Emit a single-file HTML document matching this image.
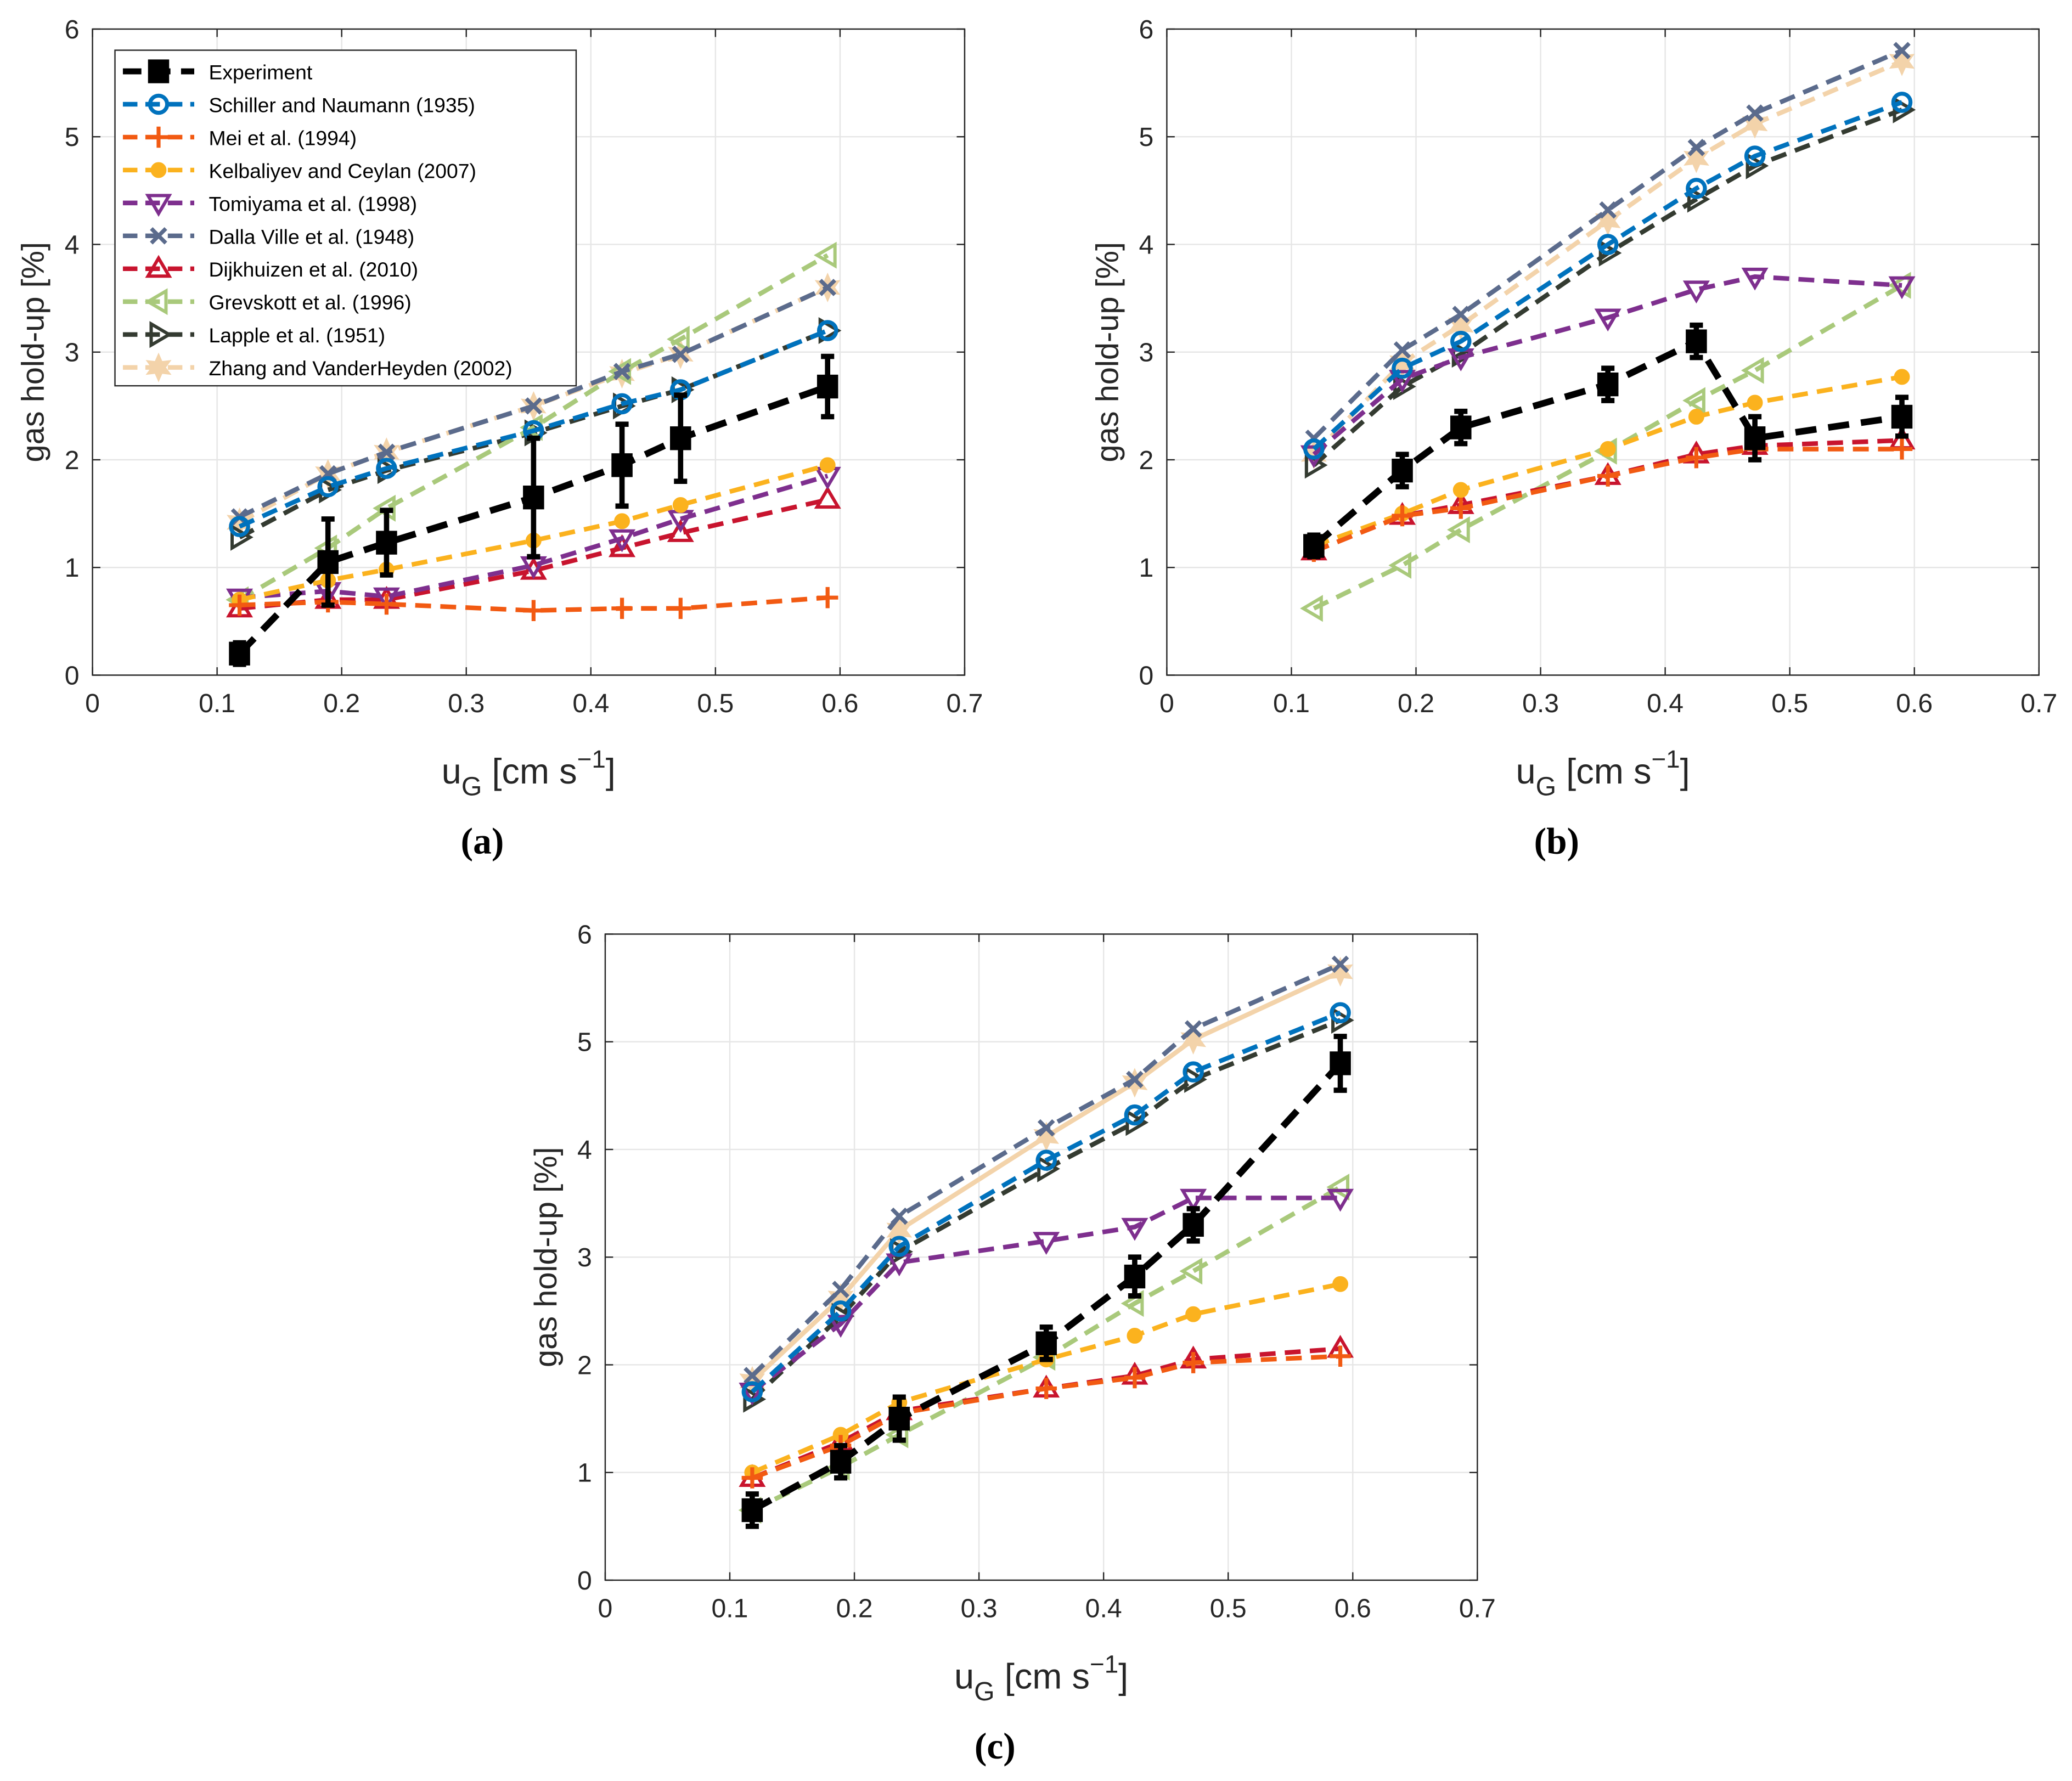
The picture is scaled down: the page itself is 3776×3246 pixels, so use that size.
<!DOCTYPE html>
<html><head><meta charset="utf-8">
<style>
html,body{margin:0;padding:0;background:#fff;}
svg{display:block;}
text{font-family:"Liberation Sans",Arial,sans-serif;}
</style></head>
<body>
<svg id="fig" xmlns="http://www.w3.org/2000/svg" width="3776" height="3246" viewBox="0 0 1568 1348" preserveAspectRatio="none">
<rect width="1568" height="1348" fill="#fff"/>
</svg>
<script>
const xVals = [0.118, 0.189, 0.236, 0.354, 0.425, 0.472, 0.59];
const xTicks = [0, 0.1, 0.2, 0.3, 0.4, 0.5, 0.6, 0.7];
const yTicks = [0, 1, 2, 3, 4, 5, 6];
const seriesNames = ["Experiment","Schiller and Naumann (1935)","Mei et al. (1994)","Kelbaliyev and Ceylan  (2007)","Tomiyama et al. (1998)","Dalla Ville et al. (1948)","Dijkhuizen et al. (2010)","Grevskott et al. (1996)","Lapple et al. (1951)","Zhang and VanderHeyden (2002)"];
const seriesColors = ["#000000","#0072BD","#F25A12","#FBB21E","#7E2F8E","#5B6B8C","#C8142E","#A9C97B","#343B31","#F3D3AA"];
const seriesMarkers = ["square","circle","plus","dot","tdown","cross","tup","tleft","tright","star"];

const dataA = [
 [0.2,1.05,1.23,1.65,1.95,2.2,2.68],
 [1.38,1.75,1.92,2.27,2.52,2.65,3.2],
 [0.65,0.68,0.66,0.6,0.62,0.62,0.72],
 [0.7,0.88,0.98,1.25,1.43,1.58,1.95],
 [0.72,0.78,0.73,1.02,1.27,1.45,1.85],
 [1.47,1.87,2.07,2.5,2.82,2.98,3.6],
 [0.62,0.7,0.7,0.97,1.18,1.32,1.63],
 [0.7,1.18,1.55,2.3,2.82,3.12,3.9],
 [1.28,1.72,1.9,2.25,2.5,2.65,3.2],
 [1.42,1.87,2.07,2.5,2.8,2.98,3.6]
];
const errA = [0.1,0.4,0.3,0.55,0.38,0.4,0.28];
const dataB = [
 [1.2,1.9,2.3,2.7,3.1,2.2,2.4],
 [2.1,2.85,3.1,4.0,4.52,4.82,5.32],
 [1.15,1.48,1.55,1.85,2.02,2.1,2.1],
 [1.2,1.5,1.72,2.1,2.4,2.53,2.77],
 [2.05,2.75,2.95,3.32,3.58,3.7,3.62],
 [2.2,3.02,3.35,4.32,4.9,5.22,5.8],
 [1.15,1.48,1.58,1.85,2.05,2.13,2.18],
 [0.62,1.02,1.35,2.08,2.55,2.83,3.62],
 [1.95,2.68,2.98,3.92,4.42,4.73,5.25],
 [2.05,2.9,3.25,4.22,4.8,5.12,5.7]
];
const errB = [0.1,0.15,0.15,0.15,0.15,0.2,0.18];
const dataC = [
 [0.65,1.1,1.5,2.2,2.82,3.3,4.8],
 [1.75,2.5,3.1,3.9,4.32,4.72,5.27],
 [0.95,1.25,1.55,1.78,1.88,2.02,2.08],
 [1.0,1.35,1.65,2.05,2.27,2.47,2.75],
 [1.75,2.38,2.95,3.15,3.28,3.55,3.55],
 [1.9,2.7,3.38,4.2,4.65,5.12,5.72],
 [0.95,1.28,1.57,1.78,1.9,2.05,2.15],
 [0.65,1.05,1.35,2.07,2.57,2.87,3.65],
 [1.68,2.45,3.05,3.82,4.25,4.65,5.2],
 [1.85,2.62,3.25,4.12,4.62,5.02,5.65]
];
const errC = [0.15,0.15,0.2,0.15,0.18,0.15,0.25];

const NS="http://www.w3.org/2000/svg";
const fig=document.getElementById('fig');
function el(tag,attrs,parent){const e=document.createElementNS(NS,tag);for(const k in attrs)e.setAttribute(k,attrs[k]);(parent||fig).appendChild(e);return e;}

function marker(g,type,cx,cy,col){
  const s=8;let m;
  if(type==="square"){m=el('rect',{x:cx-7,y:cy-8,width:14,height:16,fill:col,stroke:col,'stroke-width':2},g);}
  else if(type==="circle"){m=el('circle',{cx,cy,r:6.5,fill:'none',stroke:col,'stroke-width':3},g);}
  else if(type==="plus"){m=el('path',{d:`M${cx-s},${cy}H${cx+s}M${cx},${cy-s}V${cy+s}`,stroke:col,'stroke-width':3,fill:'none'},g);}
  else if(type==="dot"){m=el('circle',{cx,cy,r:5.5,fill:col,stroke:col,'stroke-width':1},g);}
  else if(type==="cross"){m=el('path',{d:`M${cx-5.5},${cy-5.5}L${cx+5.5},${cy+5.5}M${cx-5.5},${cy+5.5}L${cx+5.5},${cy-5.5}`,stroke:col,'stroke-width':3,fill:'none'},g);}
  else if(type==="star"){let p=[];for(let i=0;i<12;i++){const r=i%2?5:10;const a=Math.PI/6*i-Math.PI/2;p.push((cx+r*Math.cos(a)).toFixed(1)+','+(cy+r*Math.sin(a)).toFixed(1));}m=el('polygon',{points:p.join(' '),fill:col,stroke:col,'stroke-width':1},g);}
  else {let pts;
    if(type==="tdown")pts=[[cx-s,cy-s*0.7],[cx+s,cy-s*0.7],[cx,cy+s]];
    else if(type==="tup")pts=[[cx-s,cy+s*0.7],[cx+s,cy+s*0.7],[cx,cy-s]];
    else if(type==="tleft")pts=[[cx+s*0.7,cy-s],[cx+s*0.7,cy+s],[cx-s,cy]];
    else pts=[[cx-s*0.7,cy-s],[cx-s*0.7,cy+s],[cx+s,cy]];
    m=el('polygon',{points:pts.map(p=>p.join(',')).join(' '),fill:'none',stroke:col,'stroke-width':2.5},g);}
  return m;
}

function panel(id,x0,x1,yTop,yBot,data,err,label,solidZhang){
  const g=el('g',{});
  
  
  const sx=v=>x0+(x1-x0)*v/0.7, sy=v=>yBot-(yBot-yTop)*v/6;
  el('rect',{x:x0,y:yTop,width:x1-x0,height:yBot-yTop,fill:'#fff',stroke:'none'},g);
  xTicks.forEach(t=>{el('line',{x1:sx(t),x2:sx(t),y1:yTop,y2:yBot,stroke:'#e6e6e6','stroke-width':1},g);
    const tx=el('text',{x:sx(t),y:yBot+28,'font-size':20,'text-anchor':'middle',fill:'#262626'},g);tx.textContent=String(t);
    });
  yTicks.forEach(t=>{el('line',{x1:x0,x2:x1,y1:sy(t),y2:sy(t),stroke:'#e6e6e6','stroke-width':1},g);
    const tx=el('text',{x:x0-10,y:sy(t)+7,'font-size':20,'text-anchor':'end',fill:'#262626'},g);tx.textContent=String(t);
    });
  el('rect',{x:x0,y:yTop,width:x1-x0,height:yBot-yTop,fill:'none',stroke:'#262626','stroke-width':1},g);
  xTicks.forEach(t=>{el('line',{x1:sx(t),x2:sx(t),y1:yBot,y2:yBot-6,stroke:'#262626'},g);el('line',{x1:sx(t),x2:sx(t),y1:yTop,y2:yTop+6,stroke:'#262626'},g);});
  yTicks.forEach(t=>{el('line',{x1:x0,x2:x0+6,y1:sy(t),y2:sy(t),stroke:'#262626'},g);el('line',{x1:x1,x2:x1-6,y1:sy(t),y2:sy(t),stroke:'#262626'},g);});
  for(let si=data.length-1;si>=0;si--){
    const sg=el('g',{},g);
    
    
    const col=seriesColors[si];
    const d=data[si].map((v,i)=>(i?'L':'M')+sx(xVals[i]).toFixed(1)+','+sy(v).toFixed(1)).join('');
    const solid=(solidZhang&&si===9);
    el('path',{d,fill:'none',stroke:col,'stroke-width':si===0?5:3.5,'stroke-dasharray':solid?'none':(si===0?'16,9':'12,7')},sg);
    if(si===0){data[0].forEach((v,i)=>{const x=sx(xVals[i]);
      el('path',{d:`M${x},${sy(v-err[i])}V${sy(v+err[i])}M${x-5},${sy(v-err[i])}H${x+5}M${x-5},${sy(v+err[i])}H${x+5}`,stroke:'#000','stroke-width':4,fill:'none'},sg);});}
    data[si].forEach((v,i)=>{const m=marker(sg,seriesMarkers[si],sx(xVals[i]),sy(v),col);
      });
  }
  const yl=el('text',{x:0,y:0,'font-size':24,'text-anchor':'middle',fill:'#262626',transform:`translate(${x0-37},${(yTop+yBot)/2}) rotate(-90)`},g);
  yl.textContent='gas hold-up [%]';
  const xl=el('text',{x:(x0+x1)/2,y:yBot+82,'font-size':27,'text-anchor':'middle',fill:'#262626'},g);
  xl.innerHTML='u<tspan font-size="20" dy="9">G</tspan><tspan dy="-9"> [cm s</tspan><tspan font-size="19" dy="-12">−1</tspan><tspan dy="12">]</tspan>';
  
  const sl=el('text',{x:(x0+x1)/2-35,y:yBot+135,'text-anchor':'middle',fill:'#000',style:'font-family:"Liberation Serif",serif;font-weight:bold;font-size:28px'},g);
  sl.textContent='('+label+')';
  
  return {g,sx,sy};
}

panel('a',70,730,22,511,dataA,errA,'a',false);
panel('b',883,1543,22,511,dataB,errB,'b',false);
panel('c',458,1118,707,1196,dataC,errC,'c',true);

const lg=el('g',{});


el('rect',{x:87,y:38,width:349,height:254,fill:'#fff',stroke:'#262626','stroke-width':1},lg);
seriesNames.forEach((n,i)=>{
  const y=54+i*24.9;
  const e=el('g',{},lg);
  
  
  el('line',{x1:93,x2:147,y1:y,y2:y,stroke:seriesColors[i],'stroke-width':i===0?4.5:3.5,'stroke-dasharray':i===0?'14,8':'11,6'},e);
  if(i===0)el('path',{d:`M120,${y-7}V${y+7}M116,${y-7}H124M116,${y+7}H124`,stroke:'#000','stroke-width':3},e);
  marker(e,seriesMarkers[i],120,y,seriesColors[i]);
  const t=el('text',{x:158,y:y+6,'font-size':15.5,fill:'#000'},e);t.textContent=n;
});
</script>
</body></html>
